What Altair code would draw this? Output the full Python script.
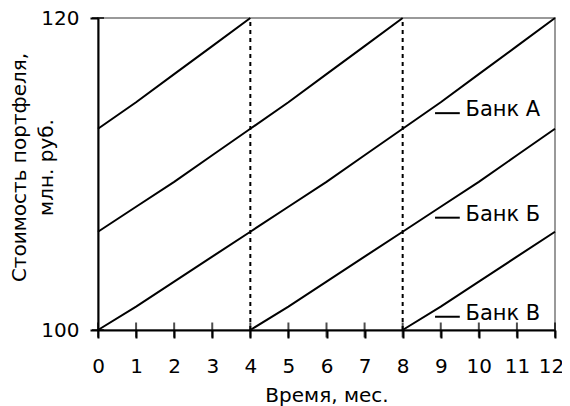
import altair as alt
import pandas as pd

# --- data ---
months = list(range(13))
curve_a_x = [0, 1, 2, 3, 4]
curve_a_y = [112.9, 114.6, 116.4, 118.2, 120.0]
curve_b_x = [0, 1, 2, 3, 4, 5, 6, 7, 8]
curve_b_y = [106.3, 107.9, 109.5, 111.2, 112.9, 114.6, 116.4, 118.2, 120.0]
curve_c_x = [0, 1, 2, 3, 4, 5, 6, 7, 8, 9, 10, 11, 12]
curve_c_y = [100.0, 101.5, 103.1, 104.7, 106.3, 107.9, 109.5, 111.2, 112.9, 114.6, 116.4, 118.2, 120.0]
curve_d_x = [4, 5, 6, 7, 8, 9, 10, 11, 12]
curve_d_y = [100.0, 101.5, 103.1, 104.7, 106.3, 107.9, 109.5, 111.2, 112.9]
curve_e_x = [8, 9, 10, 11, 12]
curve_e_y = [100.0, 101.5, 103.1, 104.7, 106.3]

split_months = [4, 8]
y_ticks = [100, 120]

label_names = ["Банк А", "Банк Б", "Банк В"]
label_y = [113.9, 107.2, 100.85]
dash_x0 = 8.85
dash_x1 = 9.5
text_x = 9.65

FONT = "DejaVu Sans"
FS = 20

rows = []
for name, xs_, ys_ in [("a", curve_a_x, curve_a_y), ("b", curve_b_x, curve_b_y),
                       ("c", curve_c_x, curve_c_y), ("d", curve_d_x, curve_d_y),
                       ("e", curve_e_x, curve_e_y)]:
    for x, y in zip(xs_, ys_):
        rows.append({"curve": name, "x": x, "y": y})
curves_df = pd.DataFrame(rows)

xs = alt.Scale(domain=[0, 12], nice=False, zero=False)
ys = alt.Scale(domain=[100, 120], nice=False, zero=False)

x_axis = alt.Axis(values=months, title="Время, мес.", titleBaseline="alphabetic",
                  titleY=71, labelPadding=18, tickSize=8, labelFlush=False, labelOverlap=False,
                  labelOffset={"condition": {"test": "datum.value === 12", "value": -4},
                               "value": 0})
y_axis = alt.Axis(values=y_ticks, title=["Стоимость портфеля,", "млн. руб."],
                  titleAngle=-90, titleAlign="center", titleBaseline="middle",
                  titleX=-79, titleY=149, titleLineHeight=27, labelPadding=11, tickSize=8,
                  labelOverlap=False)


def X(field):
    return alt.X(field, scale=xs, axis=x_axis)


def Y(field):
    return alt.Y(field, scale=ys, axis=y_axis)


lines = alt.Chart(curves_df).mark_line(color="black", strokeWidth=2).encode(
    x=X("x:Q"), y=Y("y:Q"), detail="curve:N",
)

split_df = pd.DataFrame({"x": split_months, "y0": [100] * len(split_months), "y1": [120] * len(split_months)})
splits = alt.Chart(split_df).mark_rule(color="black", strokeWidth=2, strokeDash=[4, 4]).encode(
    x=X("x:Q"), y=Y("y0:Q"), y2="y1:Q")

xt_df = pd.DataFrame({"x": months, "y": [100] * len(months)})
xticks = alt.Chart(xt_df).mark_tick(orient="vertical", color="black", size=15, thickness=2).encode(
    x=X("x:Q"), y=Y("y:Q"))

yt_df = pd.DataFrame({"x": [0] * len(y_ticks), "y": y_ticks})
yticks = alt.Chart(yt_df).mark_tick(orient="horizontal", color="black", size=12, thickness=2).encode(
    x=X("x:Q"), y=Y("y:Q"))

lab_df = pd.DataFrame({"name": label_names, "y": label_y,
                       "x0": [dash_x0] * 3, "x1": [dash_x1] * 3, "tx": [text_x] * 3})
dashes = alt.Chart(lab_df).mark_rule(color="black", strokeWidth=2).encode(
    x=X("x0:Q"), x2="x1:Q", y=Y("y:Q"))
texts = alt.Chart(lab_df).mark_text(align="left", baseline="middle", font=FONT, fontSize=21,
                                    color="black", dy=-3).encode(
    x=X("tx:Q"), y=Y("y:Q"), text="name:N")

chart = alt.layer(lines, splits, xticks, yticks, dashes, texts).properties(
    width=457, height=312,
    autosize=alt.AutoSizeParams(type="none"),
    padding={"left": 90, "top": 10, "right": 7, "bottom": 76},
).configure_view(stroke="#999999", strokeWidth=2).configure_axis(
    grid=False, domainColor="black", domainWidth=2, tickColor="black", tickWidth=2,
    labelFont=FONT, labelFontSize=FS, labelColor="black", labelOverlap=False,
    titleFont=FONT, titleFontSize=FS, titleColor="black", titleFontWeight="normal",
).configure_axisX(labelOverlap=False, labelSeparation=0)

chart.save("out.html", embed_options={"renderer": "svg", "actions": False})
